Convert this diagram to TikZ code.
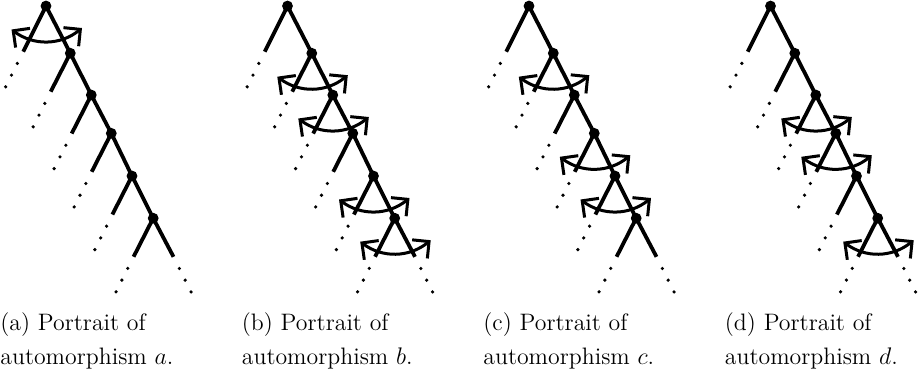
\documentclass[tikz,border=0pt]{standalone}
\usepackage{amsmath}
\usepackage{tikz}
\usetikzlibrary{arrows.meta,calc}

\begin{document}
\begin{tikzpicture}[
    x=0.5pt, y=0.5pt,
    branch/.style={line width=1.9pt},
    vertex/.style={circle, fill, inner sep=0pt, minimum size=5.4pt},
    swap/.style={line width=1.5pt,
                 {Straight Barb[length=6pt,width=12pt]}-{Straight Barb[length=6pt,width=12pt]}},
    caption/.style={anchor=base west, inner sep=0pt, font=\fontsize{11.9}{14}\selectfont},
]
\useasboundingbox (0,0) rectangle (920,-377);

% one portrait per automorphism
\foreach \p/\lab/\flips in {0/a/{0}, 1/b/{1,2,4,5}, 2/c/{1,3,4}, 3/d/{2,3,5}} {
  \begin{scope}[shift={(\p*241.5,0)}]
    % spine vertices
    \foreach \i/\dx/\dy in {0/0/0, 1/24.3/47.2, 2/45.3/89, 3/65.3/127.3, 4/86/170, 5/107.2/212.2}
      \node[vertex] (v\lab\i) at (46+\dx,-6-\dy) {};
    \draw[branch] (v\lab0.center) -- (v\lab1.center) -- (v\lab2.center)
                  -- (v\lab3.center) -- (v\lab4.center) -- (v\lab5.center);

    % left stubs
    \coordinate (l\lab0) at ($(v\lab0)+(-22.8,-45.7)$);
    \foreach \i in {1,...,5}
      \coordinate (l\lab\i) at ($(v\lab\i)+(-19.6,-38.5)$);
    \coordinate (r\lab5) at ($(v\lab5)+(20.3,-38.6)$);
    \foreach \i in {0,...,5} {
      \draw[branch] (v\lab\i.center) -- (l\lab\i);
      \foreach \k in {1,2,3}
        \fill ($(l\lab\i)+(-5.85*\k,-11.7*\k)$) circle (0.9pt);
    }
    \draw[branch] (v\lab5.center) -- (r\lab5);
    \foreach \k in {1,2,3}
      \fill ($(r\lab5)+(5.85*\k,-11.7*\k)$) circle (0.9pt);

    % swaps
    \foreach \f in \flips {
      \coordinate (s\lab\f) at ($(v\lab\f)+(-34.5,-23.5)$);
      \coordinate (t\lab\f) at ($(v\lab\f)+(36,-22)$);
      \draw[swap] (s\lab\f) to[bend right=38] (t\lab\f);
    }

    % caption
    \node[caption] (cap\lab1) at (0,-330.5) {(\lab) Portrait of};
    \node[caption] (cap\lab2) at (0,-364) {automorphism $\lab$.};
  \end{scope}
}
\end{tikzpicture}
\end{document}
